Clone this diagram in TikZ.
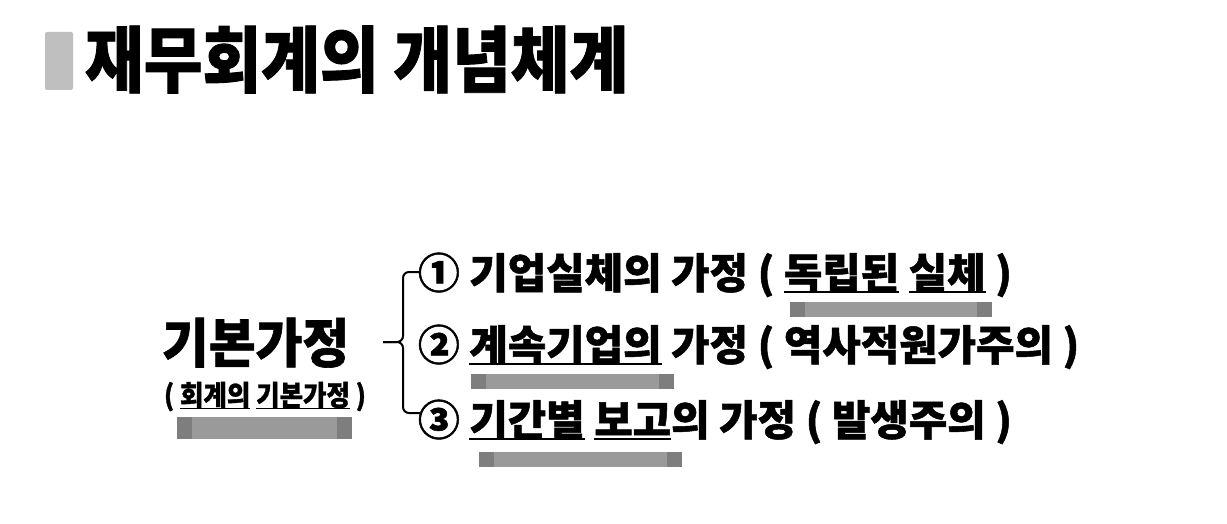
\documentclass[tikz,border=0pt]{standalone}
\usepackage{fontspec}
\newfontfamily\kr{Noto Sans CJK KR}[BoldFeatures={FakeBold=1.2}]
\definecolor{titlebar}{HTML}{BFBFBF}
\definecolor{barmid}{HTML}{9A9A9A}
\definecolor{barend}{HTML}{7E7E7E}
\newcommand\ulw[1]{\setbox0=\hbox{#1}\rlap{\rule[-4.3pt]{\wd0}{1.9pt}}\box0\relax}
\newcommand\ulsm[1]{\setbox0=\hbox{#1}\rlap{\rule[-3.6pt]{\wd0}{1.4pt}}\box0\relax}
\newcommand\graybar[4]{%
  \fill[barmid] (#1,#3) rectangle (#2,#4);
  \fill[barend] (#1,#3) rectangle ({#1+15},#4);
  \fill[barend] ({#2-15},#3) rectangle (#2,#4);}
\tikzset{
  txt/.style={inner sep=0pt, outer sep=0pt, anchor=base west, text=black},
  titlefont/.style={font=\kr\bfseries\fontsize{72}{80}\selectfont},
  mainfont/.style={font=\kr\bfseries\fontsize{53}{60}\selectfont},
  subfont/.style={font=\kr\bfseries\fontsize{28}{32}\selectfont},
  linefont/.style={font=\kr\bfseries\fontsize{42}{48}\selectfont},
  bracestyle/.style={draw=black, line width=2pt, rounded corners=6pt}
}
\begin{document}
\begin{tikzpicture}[x=1pt,y=-1pt]
\useasboundingbox (0,0) rectangle (1227,524);
\fill[white] (0,0) rectangle (1227,524);
% title
\fill[titlebar, rounded corners=2pt] (45,32) rectangle (73,90);
\node[txt, titlefont] (title) at (85,86.5) {\scalebox{0.887}[1]{재무회계의 개념체계}};
% left
\graybar{177}{352}{417}{439}
\node[txt, mainfont] (main) at (162,362.5) {\scalebox{0.96}[1]{기본가정}};
\node[txt, subfont] (sub) at (164,405.5) {\scalebox{0.91}[1]{( \ulsm{회계의} \ulsm{기본가정} )}};
% brace
\coordinate (brtop) at (420,272);
\coordinate (brbot) at (420,413);
\coordinate (brmid) at (403,342);
\coordinate (brtip) at (383,342);
\draw[bracestyle] (brtop) -| (brmid) -- (brtip);
\draw[bracestyle] (brbot) -| (brmid) -- (brtip);
% items
\graybar{790}{992}{302}{317}
\graybar{471}{674}{374}{389}
\graybar{479}{682}{452}{467}
\node[txt, linefont] (l1) at (418,288.5) {\scalebox{0.995}[1]{① 기업실체의 가정 ( \ulw{독립된} \ulw{실체} )}};
\node[txt, linefont] (l2) at (418,360.5) {\scalebox{0.995}[1]{② \ulw{계속기업의} 가정 ( 역사적원가주의 )}};
\node[txt, linefont] (l3) at (418,435.5) {\scalebox{0.995}[1]{③ \ulw{기간별} \ulw{보고}의 가정 ( 발생주의 )}};
\end{tikzpicture}
\end{document}
